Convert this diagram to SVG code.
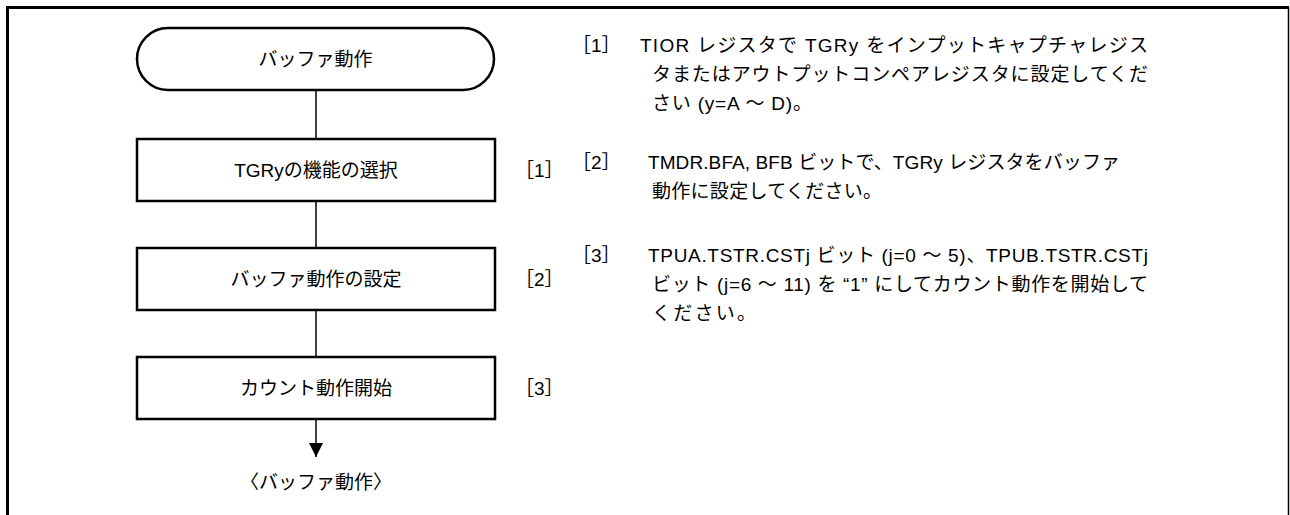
<svg xmlns="http://www.w3.org/2000/svg" width="1290" height="515" viewBox="0 0 1290 515">
<style>
.box{fill:#fff;stroke:#000;stroke-width:2.5}
.t{font-family:"Liberation Sans","Noto Sans CJK JP",sans-serif;font-size:19px;fill:#000}
.c{text-anchor:middle}
.r{font-family:"Liberation Sans","Noto Sans CJK JP",sans-serif;font-size:19px;fill:#000}
.ln{stroke:#000;stroke-width:1.5;fill:none}
</style>
<defs>
<marker id="ah" viewBox="0 0 14 14" refX="14" refY="7" markerWidth="14" markerHeight="14" markerUnits="userSpaceOnUse" orient="auto">
<path d="M0,0 L14,7 L0,14 Z" fill="#000"/>
</marker>
</defs>
<g id="frame">
<path d="M7.5,515 L7.5,7.5 L1289,7.5" fill="none" stroke="#000" stroke-width="3"/>
<line x1="1288.5" y1="7" x2="1288.5" y2="515" stroke="#000" stroke-width="1.5"/>
</g>
<g id="connectors">
<line class="ln" x1="316" y1="90" x2="316" y2="139"/>
<line class="ln" x1="316" y1="201" x2="316" y2="248"/>
<line class="ln" x1="316" y1="310" x2="316" y2="357"/>
<path d="M316,419 L316,457" fill="none" stroke="#000" stroke-width="1.5" marker-end="url(#ah)"/>
</g>
<g id="start">
<rect class="box" x="137" y="28" width="357" height="62" rx="31" ry="31"/>
<text class="t c" x="315.5" y="66">バッファ動作</text>
</g>
<g id="step1">
<rect class="box" x="137" y="139" width="358" height="62"/>
<text class="t c" x="316" y="177">TGRyの機能の選択</text>
<text class="t" x="515" y="177">［1］</text>
</g>
<g id="step2">
<rect class="box" x="137" y="248" width="358" height="62"/>
<text class="t c" x="316" y="286">バッファ動作の設定</text>
<text class="t" x="515" y="286">［2］</text>
</g>
<g id="step3">
<rect class="box" x="137" y="357" width="358" height="62"/>
<text class="t c" x="316" y="395">カウント動作開始</text>
<text class="t" x="515" y="395">［3］</text>
</g>
<g id="end">
<text class="t c" x="316" y="489">〈バッファ動作〉</text>
</g>
<g id="notes">
<text class="r" x="572" y="52">［1］</text>
<text class="r" x="640" y="52" textLength="508" lengthAdjust="spacing">TIOR レジスタで TGRy をインプットキャプチャレジス</text>
<text class="r" x="652" y="81" textLength="496" lengthAdjust="spacing">タまたはアウトプットコンペアレジスタに設定してくだ</text>
<text class="r" x="652" y="110" textLength="160" lengthAdjust="spacing">さい (y=A ～ D)。</text>
<text class="r" x="572" y="169">［2］</text>
<text class="r" x="648" y="169" textLength="472" lengthAdjust="spacing">TMDR.BFA, BFB ビットで、TGRy レジスタをバッファ</text>
<text class="r" x="652" y="198" textLength="230" lengthAdjust="spacing">動作に設定してください。</text>
<text class="r" x="572" y="262">［3］</text>
<text class="r" x="648" y="262" textLength="500" lengthAdjust="spacing">TPUA.TSTR.CSTj ビット (j=0 ～ 5)、TPUB.TSTR.CSTj</text>
<text class="r" x="652" y="291" textLength="496" lengthAdjust="spacing">ビット (j=6 ～ 11) を “1” にしてカウント動作を開始して</text>
<text class="r" x="652" y="320" textLength="104" lengthAdjust="spacing">ください。</text>
</g>
</svg>
